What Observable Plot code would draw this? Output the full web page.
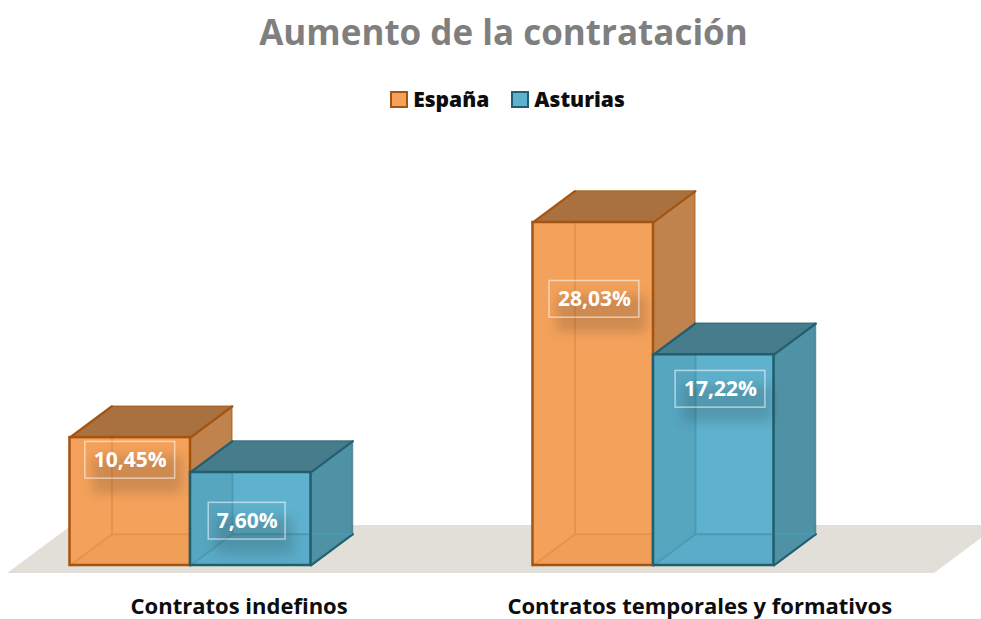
<!DOCTYPE html>
<html><head><meta charset="utf-8">
<script src="https://cdn.jsdelivr.net/npm/d3@7"></script>
<script src="https://cdn.jsdelivr.net/npm/@observablehq/plot@0.6"></script>
<style>
html,body{margin:0;padding:0;background:#fff;width:981px;height:619px;overflow:hidden}
body{font-family:"Open Sans",sans-serif;font-weight:700}
#title{position:absolute;left:0;width:1007px;top:7px;text-align:center;font-size:35px;line-height:50px;color:#7f7f7f}
#legend{position:absolute;left:0;width:1015px;top:84px;display:flex;justify-content:center;align-items:center;font-size:21px;line-height:30px;color:#0d0d0d}
#legend i{display:inline-block;box-sizing:border-box;width:18px;height:17px;border:2px solid;margin-right:5px}
#legend span{margin-right:22px;display:flex;align-items:center}
#legend span:last-child{margin-right:0}
#chart{position:absolute;left:0;top:120px}
svg{overflow:visible}
</style></head><body>
<div id="title">Aumento de la contratación</div>
<div id="legend"></div>
<div id="chart"></div>
<script>
const categories = ["Contratos indefinos", "Contratos temporales y formativos"];
const series = ["España", "Asturias"];
const espana = [10.45, 28.03];
const asturias = [7.60, 17.22];
const labelHeightEspana = [8.6, 21.75];
const labelHeightAsturias = [3.62, 14.4];
const labelAlongEspana = [0.5, 0.51];
const labelAlongAsturias = [0.47, 0.556];

// Layout, in scale units: one x unit is the distance between groups, y is in percentage points.
const barW = 0.2603, depthX = 0.0907, depthY = 2.55;
const palette = {
  "España":   {front:"#f4a25b", left:"#f4a25b", side:"#c0834e", top:"#a9713f", stroke:"#a5540f", inner:"#e8924a", floor:"#f09f58"},
  "Asturias": {front:"#5fb2cd", left:"#56a6c0", side:"#5092a5", top:"#477c8c", stroke:"#215f70", inner:"#4a9ab5", floor:"#5aacc8"}
};
const fmt = v => v.toFixed(2).replace(".", ",") + "%";

const bars = [];
categories.forEach((c, g) => {
  bars.push({g, s: series[0], v: espana[g], x0: g - barW, x1: g, ly: labelHeightEspana[g], la: labelAlongEspana[g]});
  bars.push({g, s: series[1], v: asturias[g], x0: g, x1: g + barW, ly: labelHeightAsturias[g], la: labelAlongAsturias[g]});
});

// Legend
const legend = d3.select("#legend");
series.forEach(s => {
  const sp = legend.append("span");
  sp.append("i").style("background", palette[s].front).style("border-color", palette[s].stroke);
  sp.append("b").text(s);
});

// Each box drawn from its value: faces are areas in data space
function boxMarks(b) {
  const p = palette[b.s];
  const x0 = b.x0, x1 = b.x1, v = b.v, dx = depthX, dy = depthY;
  const line = (pts, o) => Plot.line(pts, {x:"0", y:"1", ...o});
  const inner = {stroke:p.inner, strokeWidth:2};
  return [
    // front face
    Plot.rect([b], {x1:"x0", x2:"x1", y1:0, y2:"v", fill:p.front}),
    // left inner face
    Plot.areaY([{x:x0,a:0,b:v},{x:x0+dx,a:dy,b:v}], {x:"x", y1:"a", y2:"b", fill:p.left}),
    // inner floor of the box
    Plot.areaX([{y:0,a:x0,b:x1},{y:dy,a:x0+dx,b:x1+dx}], {y:"y", x1:"a", x2:"b", fill:p.floor, curve:"linear"}),
    // right face, over the part of the inner floor that passes behind it
    Plot.areaY([{x:x1,a:0,b:v},{x:x1+dx,a:dy,b:v+dy}], {x:"x", y1:"a", y2:"b", fill:p.side, stroke:p.stroke, strokeWidth:1.5, strokeOpacity:.55}),
    // inner hidden edges
    line([[x0+dx,dy],[x0+dx,v]], inner),
    line([[x0+dx,dy],[x1+dx,dy]], inner),
    line([[x0,0],[x0+dx,dy]], inner),
    // top face
    Plot.areaX([{y:v,a:x0,b:x1},{y:v+dy,a:x0+dx,b:x1+dx}], {y:"y", x1:"a", x2:"b", fill:p.top, stroke:p.stroke, strokeWidth:1.5, strokeOpacity:.55}),
    // front outline
    Plot.rect([b], {x1:"x0", x2:"x1", y1:0, y2:"v", fill:"none", stroke:p.stroke, strokeWidth:2.5}),
    line([[x1,v],[x1+dx,v+dy]], {stroke:p.stroke, strokeWidth:2}),
    line([[x0,v],[x0+dx,v+dy]], {stroke:p.stroke, strokeWidth:2}),
    line([[x1,0],[x1+dx,dy]], {stroke:p.stroke, strokeWidth:2})
  ];
}

const labelHalfW = b => (b.v < 10 ? 0.083 : 0.097);
const labelHalfH = 1.5;
const labelCenter = b => b.x0 + barW * b.la;

const labelMarks = [
  Plot.rect(bars, {
    x1: b => labelCenter(b) - labelHalfW(b) + 0.016, x2: b => labelCenter(b) + labelHalfW(b) + 0.016,
    y1: b => b.ly - labelHalfH - 1.2, y2: b => b.ly + labelHalfH - 1.2,
    fill:"#222", fillOpacity:.18, imageFilter:"blur(6px)"
  }),
  Plot.rect(bars, {
    x1: b => labelCenter(b) - labelHalfW(b), x2: b => labelCenter(b) + labelHalfW(b),
    y1: b => b.ly - labelHalfH, y2: b => b.ly + labelHalfH,
    fill:"none", stroke:"#fff", strokeOpacity:.55, strokeWidth:1.5
  }),
  Plot.text(bars, {
    x: labelCenter, y: "ly", text: b => fmt(b.v), fill:"#fff",
    fontSize:21, fontWeight:700, textAnchor:"middle"
  })
];

const floorDepth = 3.27, floorFront = -0.65;
const floorShift = (floorDepth - floorFront) * depthX / depthY;
const floorMarks = [
  Plot.areaX([
    {y:floorFront, a:-0.3948, b:1.6069},
    {y:floorDepth, a:-0.3948 + floorShift, b:1.6069 + floorShift}
  ], {y:"y", x1:"a", x2:"b", fill:"#e1dfd8"})
];

const plot = Plot.plot({
  width:981, height:499,
  marginTop:0, marginRight:0, marginLeft:0, marginBottom:54,
  style:{background:"transparent", fontFamily:'"Open Sans",sans-serif', overflow:"visible"},
  x:{type:"linear", domain:[0,1], range:[190,653], axis:null},
  y:{type:"linear", domain:[0,28.03], range:[445,102], axis:null},
  marks:[
    ...floorMarks,
    ...bars.flatMap(boxMarks),
    ...labelMarks,
    Plot.axisX({
      ticks:[0.105,1.1], tickSize:0, tickPadding:33, anchor:"bottom",
      tickFormat:(d,i)=>categories[i], fontSize:22, fontWeight:700, fill:"#0d0d0d", label:null
    })
  ]
});
document.getElementById("chart").append(plot);
</script>
</body></html>
